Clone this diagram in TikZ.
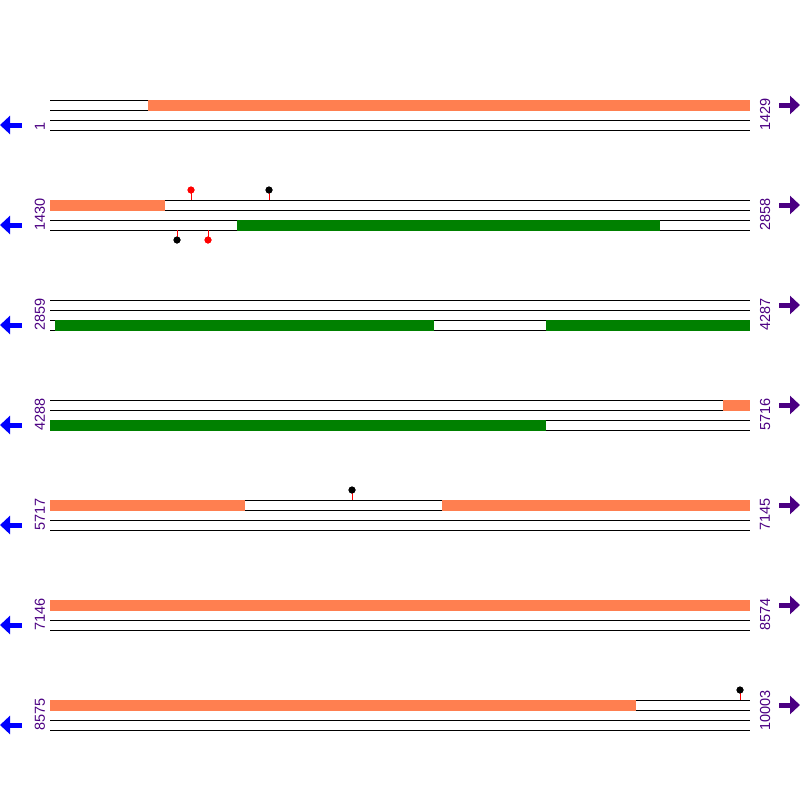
\documentclass[tikz,border=0pt]{standalone}
\usepackage{fontspec}
\setmainfont{Liberation Sans}
\usetikzlibrary{arrows.meta}
\definecolor{fwdorange}{HTML}{FF7F50}
\definecolor{revgreen}{HTML}{008000}
\definecolor{numpurple}{HTML}{4B0082}

\begin{document}
\begin{tikzpicture}[x=1pt, y=-1pt, font=\fontsize{14.5}{17}\selectfont,
  strand/.style={black, line width=1pt},
  fwdbox/.style={fill=fwdorange},
  revbox/.style={fill=revgreen},
  numlab/.style={numpurple, rotate=90, anchor=west, inner sep=0pt},
  bigar/.style={line width=5pt, -{Triangle[length=10pt, width=18pt]}},
  pin/.style={red, line width=0.8pt},
  pinhead/.style={circle, inner sep=0pt, minimum size=7pt}]
  \useasboundingbox (0,0) rectangle (800,800);
  % one row per 1429 bp: two lines for each strand, 100 px apart
  \foreach \lo/\hi [count=\r from 0] in {1/1429, 1430/2858, 2859/4287,
      4288/5716, 5717/7145, 7146/8574, 8575/10003} {
    \pgfmathsetmacro\yy{100+100*\r}
    \foreach \dy in {0,10,20,30}
      \draw[strand] (50,\yy+\dy) -- (750,\yy+\dy);
    \node[numlab] (startlab\r) at (40,\yy+31) {\lo};
    \node[numlab] (endlab\r) at (765,\yy+31) {\hi};
    \draw[bigar, blue] (22,\yy+25) -- (0,\yy+25);
    \draw[bigar, numpurple] (779,\yy+5) -- (800,\yy+5);
  }
  % forward strand features (upper band)
  \foreach \r/\xa/\xb in {0/148/750, 1/50/165, 3/723/750, 4/50/245,
      4/442/750, 5/50/750, 6/50/636}
    \fill[fwdbox] (\xa,100+100*\r-0.5) rectangle (\xb,110.5+100*\r);
  % reverse strand features (lower band)
  \foreach \r/\xa/\xb in {1/237/660, 2/55/434, 2/546/750, 3/50/546}
    \fill[revbox] (\xa,119.5+100*\r) rectangle (\xb,130.5+100*\r);
  % site markers above the forward strand
  \foreach \x/\r/\c [count=\i] in {191/1/red, 269/1/black, 352/4/black, 740/6/black} {
    \coordinate (up\i) at (\x,100+100*\r);
    \node[pinhead, fill=\c] (uphead\i) at (\x,90+100*\r) {};
    \draw[pin] (up\i) -- (uphead\i.center);
    \node[pinhead, fill=\c] at (uphead\i) {};
  }
  % site markers below the reverse strand
  \foreach \x/\c [count=\i] in {177/black, 208/red} {
    \coordinate (dn\i) at (\x,230);
    \node[pinhead, fill=\c] (dnhead\i) at (\x,240) {};
    \draw[pin] (dn\i) -- (dnhead\i.center);
    \node[pinhead, fill=\c] at (dnhead\i) {};
  }
\end{tikzpicture}
\end{document}
